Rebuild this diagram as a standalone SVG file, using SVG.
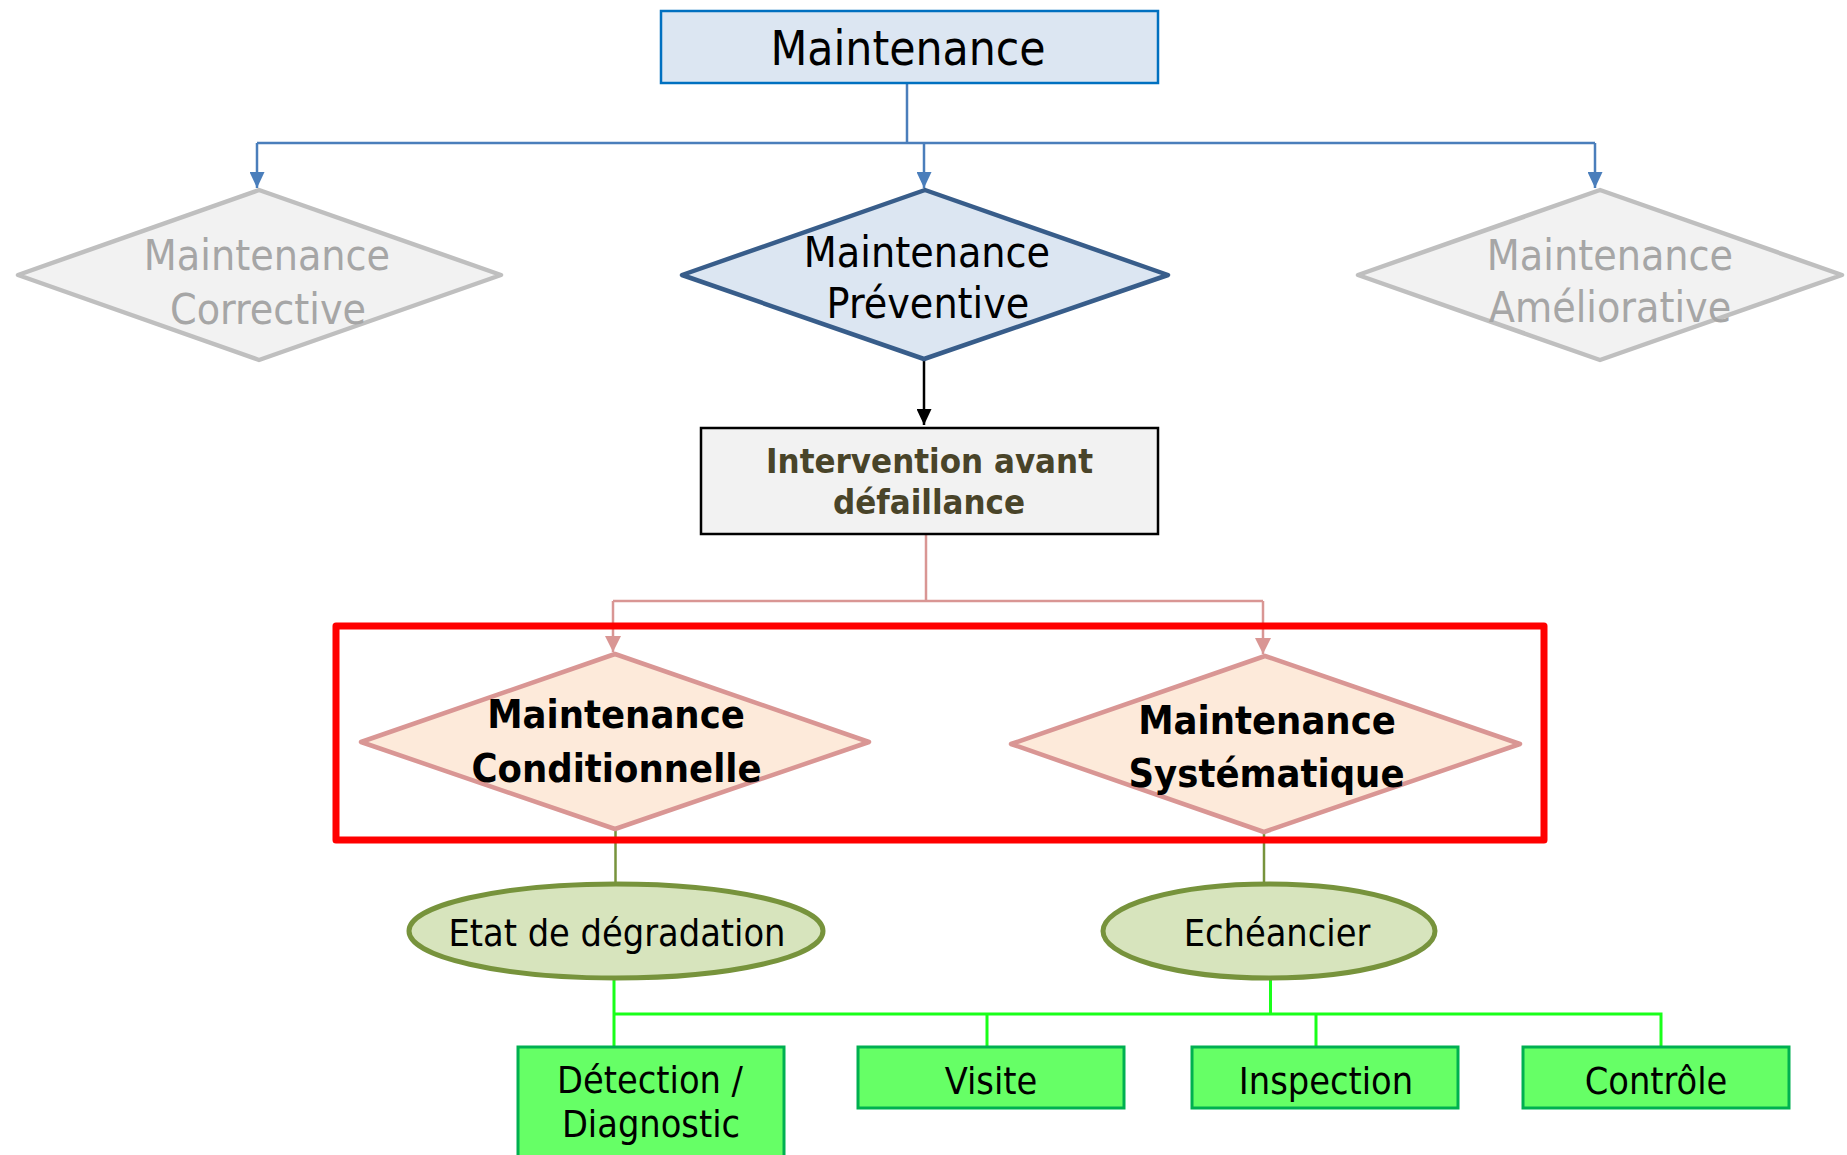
<svg xmlns="http://www.w3.org/2000/svg" width="1847" height="1155" viewBox="0 0 1847 1155">
  <style>
    text { font-family: "DejaVu Sans Condensed", "DejaVu Sans", sans-serif; font-stretch: condensed; text-anchor: middle; }
    .reg { font-size: 42.5px; fill: #000; }
    .grey { font-size: 42.5px; fill: #A6A6A6; }
    .bold { font-weight: bold; font-size: 39.5px; fill: #000; }
    .olive-t { font-weight: bold; font-size: 34.5px; fill: #494429; }
    .small { font-size: 37.5px; fill: #000; }
    .diam-grey { fill: #F2F2F2; stroke: #BFBFBF; stroke-width: 4.5; stroke-linejoin: round; }
    .diam-blue { fill: #DCE6F2; stroke: #385D8A; stroke-width: 4.5; stroke-linejoin: round; }
    .diam-pink { fill: #FDEADA; stroke: #D99694; stroke-width: 4.5; stroke-linejoin: round; }
    .ell { fill: #D7E4BD; stroke: #77933C; stroke-width: 5; }
    .gbox { fill: #66FF66; stroke: #00B050; stroke-width: 3; }
    .c-blue { fill: none; stroke: #4A7EBB; stroke-width: 2.5; }
    .c-black { fill: none; stroke: #000; stroke-width: 2.5; }
    .c-pink { fill: none; stroke: #D99694; stroke-width: 2.5; }
    .c-olive { fill: none; stroke: #77933C; stroke-width: 2.5; }
    .c-green { fill: none; stroke: #1AFF1A; stroke-width: 3; }
  </style>
  <defs>
    <marker id="arr-blue" viewBox="0 0 16 15" refX="16" refY="7.5" markerWidth="16" markerHeight="15" markerUnits="userSpaceOnUse" orient="auto">
      <path d="M0,0 L16,7.5 L0,15 z" fill="#4A7EBB"/>
    </marker>
    <marker id="arr-black" viewBox="0 0 16 15" refX="16" refY="7.5" markerWidth="16" markerHeight="15" markerUnits="userSpaceOnUse" orient="auto">
      <path d="M0,0 L16,7.5 L0,15 z" fill="#000"/>
    </marker>
    <marker id="arr-pink" viewBox="0 0 16 16" refX="16" refY="8" markerWidth="16" markerHeight="16" markerUnits="userSpaceOnUse" orient="auto">
      <path d="M0,0 L16,8 L0,16 z" fill="#D99694"/>
    </marker>
  </defs>

  <rect width="1847" height="1155" fill="#FFFFFF"/>

  <!-- connectors -->
  <g id="connectors">
    <path class="c-blue" d="M907,84 V143"/>
    <path class="c-blue" d="M257,143 H1595"/>
    <path class="c-blue" d="M257,143 V188" marker-end="url(#arr-blue)"/>
    <path class="c-blue" d="M924,143 V188" marker-end="url(#arr-blue)"/>
    <path class="c-blue" d="M1595,143 V188" marker-end="url(#arr-blue)"/>
    <path class="c-black" d="M924,360 V425" marker-end="url(#arr-black)"/>
    <path class="c-pink" d="M926,535 V601 M613,601 H1263"/>
    <path class="c-pink" d="M613,601 V652" marker-end="url(#arr-pink)"/>
    <path class="c-pink" d="M1263,601 V654" marker-end="url(#arr-pink)"/>
    <path class="c-olive" d="M615.5,830 V884"/>
    <path class="c-olive" d="M1264,833 V884"/>
    <path class="c-green" d="M614,978 V1047 M614,1014 H1661 V1047 M987,1014 V1047 M1316,1014 V1047 M1270.5,978 V1014"/>
  </g>

  <!-- highlight frame around the two preventive branches -->
  <rect id="frame" x="336" y="626" width="1208" height="214" fill="none" stroke="#FF0000" stroke-width="7" stroke-linejoin="round"/>

  <g id="n-maintenance">
    <rect x="661" y="11" width="497" height="72" fill="#DCE6F2" stroke="#0070C0" stroke-width="2.5"/>
    <text x="908" y="65" class="reg" style="font-size:47.5px">Maintenance</text>
  </g>

  <g id="n-corrective">
    <polygon class="diam-grey" points="259,190 501,275 259,360 18,275"/>
    <text x="267" y="270" class="grey">Maintenance</text>
    <text x="268" y="324" class="grey">Corrective</text>
  </g>

  <g id="n-preventive">
    <polygon class="diam-blue" points="925,190 1168,275 924,359 682,275"/>
    <text x="927" y="267" class="reg">Maintenance</text>
    <text x="928" y="318" class="reg">Préventive</text>
  </g>

  <g id="n-ameliorative">
    <polygon class="diam-grey" points="1600,190 1842,275 1600,360 1358,275"/>
    <text x="1610" y="270" class="grey">Maintenance</text>
    <text x="1610" y="322" class="grey">Améliorative</text>
  </g>

  <g id="n-intervention">
    <rect x="701" y="428" width="457" height="106" fill="#F2F2F2" stroke="#000" stroke-width="2.5"/>
    <text x="929.5" y="473" class="olive-t">Intervention avant</text>
    <text x="929" y="514" class="olive-t">défaillance</text>
  </g>

  <g id="n-conditionnelle">
    <polygon class="diam-pink" points="615,654 869,742 615,829 361,742"/>
    <text x="616" y="728" class="bold">Maintenance</text>
    <text x="616.5" y="782" class="bold">Conditionnelle</text>
  </g>

  <g id="n-systematique">
    <polygon class="diam-pink" points="1265,656 1520,744 1264,832 1011,744"/>
    <text x="1267" y="734" class="bold">Maintenance</text>
    <text x="1266.5" y="787" class="bold">Systématique</text>
  </g>

  <g id="n-etat">
    <ellipse class="ell" cx="616" cy="931" rx="207" ry="47"/>
    <text x="617" y="946" class="small">Etat de dégradation</text>
  </g>

  <g id="n-echeancier">
    <ellipse class="ell" cx="1269" cy="931" rx="166" ry="47"/>
    <text x="1277" y="946" class="small">Echéancier</text>
  </g>

  <g id="n-detection">
    <rect class="gbox" x="518" y="1047" width="266" height="120"/>
    <text x="650" y="1093" class="small">Détection /</text>
    <text x="651" y="1137" class="small">Diagnostic</text>
  </g>

  <g id="n-visite">
    <rect class="gbox" x="858" y="1047" width="266" height="61"/>
    <text x="991" y="1094" class="small">Visite</text>
  </g>

  <g id="n-inspection">
    <rect class="gbox" x="1192" y="1047" width="266" height="61"/>
    <text x="1326" y="1094" class="small">Inspection</text>
  </g>

  <g id="n-controle">
    <rect class="gbox" x="1523" y="1047" width="266" height="61"/>
    <text x="1656" y="1094" class="small">Contrôle</text>
  </g>
</svg>
